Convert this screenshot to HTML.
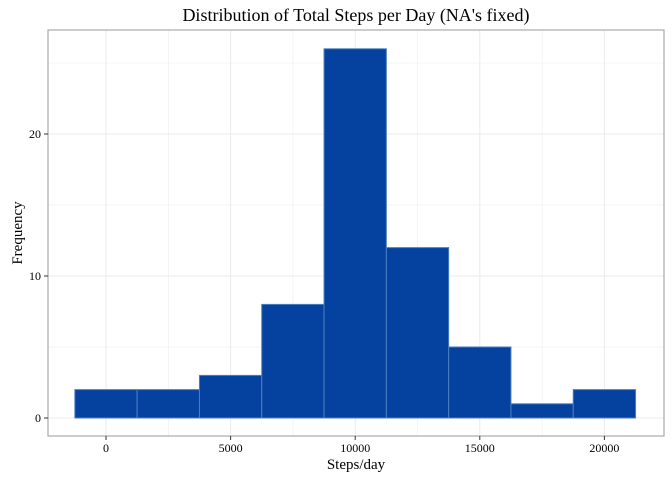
<!DOCTYPE html>
<html><head><meta charset="utf-8"><style>
body{margin:0;background:#fff}
svg{display:block;font-family:"Liberation Serif",serif}
</style></head><body>
<svg id="c" width="672" height="480">
<text x="356" y="21" font-size="18" text-anchor="middle">Distribution of Total Steps per Day (NA's fixed)</text>
<text x="356" y="469" font-size="15" text-anchor="middle">Steps/day</text>
<text transform="translate(22,233) rotate(-90)" font-size="15" text-anchor="middle">Frequency</text>
<g id="grid"></g><g id="bars"></g><g id="axes"></g>
</svg>
<script>
const binStart = -1250;
const binWidth = 2500;
const counts = [2,2,3,8,26,12,5,1,2];
const xTicks = [0,5000,10000,15000,20000];
const yTicks = [0,10,20];
const NS='http://www.w3.org/2000/svg';
const L=48,R=664,T=30,B=436;
const x=v=>106+(v/5000)*124.6;
const y=v=>418-v*14.2;
function mk(t,a,p){const e=document.createElementNS(NS,t);for(const k in a)e.setAttribute(k,a[k]);document.getElementById(p).appendChild(e);return e;}
// grid minor/major
const gx=[-2500,0,2500,5000,7500,10000,12500,15000,17500,20000,22500];
gx.forEach(v=>{const px=x(v);if(px>L&&px<R){const g=mk('line',{x1:px,x2:px,y1:T,y2:B,stroke:'#ebebeb','stroke-width':v%5000?0.5:1},'grid');}});
[0,5,10,15,20,25].forEach(v=>{const py=y(v);const g=mk('line',{x1:L,x2:R,y1:py,y2:py,stroke:'#ebebeb','stroke-width':v%10?0.5:1},'grid');});
counts.forEach((c,i)=>{const x0=x(binStart+i*binWidth),x1=x(binStart+(i+1)*binWidth);
const r=mk('rect',{x:x0,y:y(c),width:x1-x0,height:y(0)-y(c),fill:'#05429f',stroke:'#4a7fbf','stroke-width':1},'bars');

});
const f=mk('rect',{x:L,y:T,width:R-L,height:B-T,fill:'none',stroke:'#999','stroke-width':1},'axes');


xTicks.forEach(v=>{const px=x(v);mk('line',{x1:px,x2:px,y1:B,y2:B+4,stroke:'#333'},'axes');
const t=mk('text',{x:px,y:B+16,'font-size':12,'text-anchor':'middle'},'axes');t.textContent=v;

});
yTicks.forEach(v=>{const py=y(v);mk('line',{x1:L-4,x2:L,y1:py,y2:py,stroke:'#333'},'axes');
const t=mk('text',{x:L-7,y:py+4,'font-size':12,'text-anchor':'end'},'axes');t.textContent=v;

});
</script>
</body></html>
